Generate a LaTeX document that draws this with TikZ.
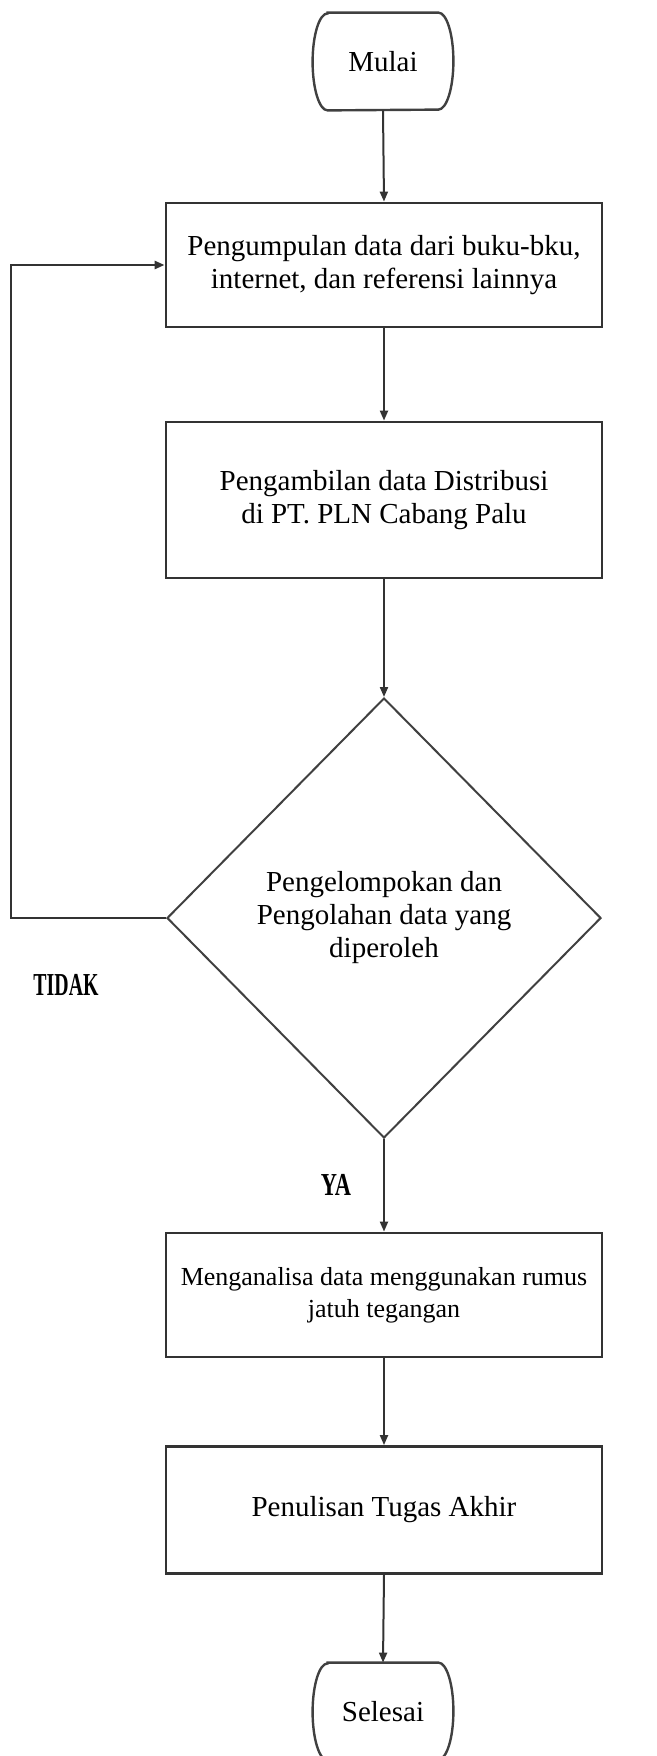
\documentclass[tikz,border=0pt]{standalone}
\usepackage{fontspec}
\setmainfont{Liberation Serif}
\usetikzlibrary{arrows.meta,shapes.geometric}
\begin{document}
\begin{tikzpicture}[x=0.5pt,y=-0.5pt,
  txt/.style={font=\fontsize{14.5}{16.5}\selectfont,align=center},
  box/.style={txt,draw=black!80,line width=1.4pt,rectangle,minimum width=218pt,inner sep=0pt},
  dec/.style={txt,draw=black!75,line width=1pt,diamond,minimum width=217pt,minimum height=220pt,inner sep=0pt},
  term/.style={txt,minimum width=70pt,minimum height=48.5pt,inner sep=0pt},
  termline/.style={draw=black!75,line width=1.2pt},
  conn/.style={draw=black!80,line width=1pt,-{Triangle[length=5pt,width=4pt]}},
  lab/.style={font=\fontsize{16}{17}\selectfont\bfseries},
]
\useasboundingbox (0,0) rectangle (657,1756);
\node[term] (mulai) at (383,61.5) {Mulai};
\draw[termline] ([xshift=7.5pt]mulai.north west) -- ([xshift=-7.5pt]mulai.north east)
  arc[start angle=90,end angle=-90,x radius=7.5pt,y radius=24.25pt]
  -- ([xshift=7.5pt]mulai.south west)
  arc[start angle=270,end angle=90,x radius=7.5pt,y radius=24.25pt] -- cycle;
\node[box,minimum height=62pt] (b1) at (384,265) {Pengumpulan data dari buku-bku,\\ internet, dan referensi lainnya};
\node[box,minimum height=78pt] (b2) at (384,500) {Pengambilan data Distribusi\\ di PT. PLN Cabang Palu};
\node[dec] (d) at (384,918) {Pengelompokan dan\\ Pengolahan data yang\\ diperoleh};
\node[box,minimum height=62pt,font=\fontsize{13}{16}\selectfont] (b3) at (384,1295) {Menganalisa data menggunakan rumus\\ jatuh tegangan};
\node[box,minimum height=63.5pt] (b4) at (384,1510) {Penulisan Tugas Akhir};
\node[term] (selesai) at (383,1711.5) {Selesai};
\draw[termline] ([xshift=7.5pt]selesai.north west) -- ([xshift=-7.5pt]selesai.north east)
  arc[start angle=90,end angle=-90,x radius=7.5pt,y radius=24.25pt]
  -- ([xshift=7.5pt]selesai.south west)
  arc[start angle=270,end angle=90,x radius=7.5pt,y radius=24.25pt] -- cycle;
\node[lab] (tidak) at (66,985) {\scalebox{0.62}[1]{TIDAK}};
\node[lab] (ya) at (336,1185) {\scalebox{0.7}[1]{YA}};
\coordinate (fb) at (11,0);
\draw[conn] (mulai.south) -- (b1.north);
\draw[conn] (b1.south) -- (b2.north);
\draw[conn] (b2.south) -- (d.north);
\draw[conn] (d.south) -- (b3.north);
\draw[conn] (b3.south) -- (b4.north);
\draw[conn] (b4.south) -- (selesai.north);
\draw[conn,line width=1.4pt] (d.west) -- (d.west -| fb) -- (b1.west -| fb) -- (b1.west);
\end{tikzpicture}
\end{document}
